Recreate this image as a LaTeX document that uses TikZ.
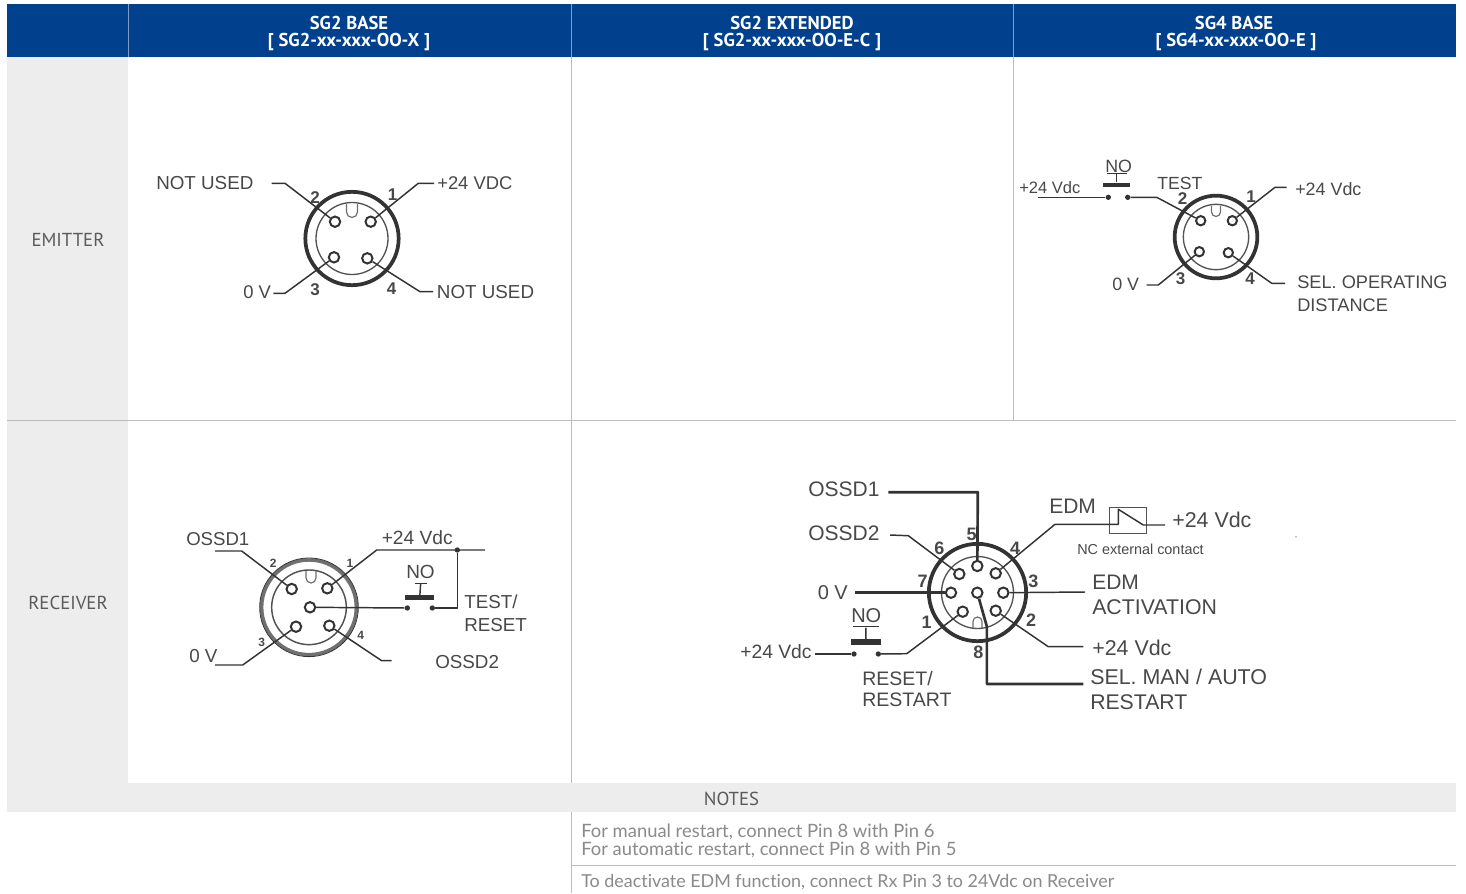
\documentclass[tikz,border=0pt]{standalone}
\usepackage{fontspec}
\setmainfont{Liberation Sans}
\newfontfamily\hdfont{PT Sans}
\newfontfamily\notefont[Ligatures=NoCommon]{Lato}
\newcommand\px[1]{\fontsize{\fpeval{#1*0.75}pt}{\fpeval{#1*0.9}pt}\selectfont}
\definecolor{hdblue}{HTML}{00408C}
\definecolor{hdline}{HTML}{7F9CC6}
\definecolor{cellgrey}{HTML}{EDEDED}
\definecolor{gridgrey}{HTML}{BDBDBD}
\definecolor{inkline}{HTML}{333333}
\definecolor{inktext}{HTML}{484848}
\definecolor{notegrey}{HTML}{8A8A8A}
\tikzset{
 lab/.style={anchor=base west,inner sep=0pt,text=inktext},
 num/.style={anchor=center,inner sep=0pt,text=inktext,font=\px{17}\bfseries},
 pinc/.style={circle,draw=inkline,fill=white,line width=1.5pt,inner sep=0pt,minimum size=7.8pt},
 wire/.style={draw=inkline,line width=1.1pt,line join=round},
 hwire/.style={draw=inkline,line width=2pt,line join=round},
 dotn/.style={circle,fill=inkline,inner sep=0pt,minimum size=4pt},
 ringo/.style={circle,draw=inkline,inner sep=0pt,line width=2.8pt},
 ringi/.style={circle,draw=inkline!85,inner sep=0pt,line width=1pt},
 barn/.style={rectangle,fill=inkline,inner sep=0pt},
 hdtext/.style={anchor=center,inner sep=0pt,text=white,font=\hdfont\px{18.6}\bfseries},
 rowtext/.style={anchor=center,inner sep=0pt,text=inktext!90,font=\hdfont\px{18.8}},
 notetext/.style={anchor=base west,inner sep=0pt,text=notegrey,font=\notefont\px{18.4}},
 keyw/.style={draw=inkline!70,line width=.9pt},
 grid/.style={draw=gridgrey,line width=.75pt}
}
\begin{document}
\begin{tikzpicture}[x=0.75pt,y=-0.75pt]
\useasboundingbox (0,0) rectangle (1466,893);
\fill[white] (0,0) rectangle (1466,893);
% table
\fill[hdblue] (7,4) rectangle (1456,57);
\fill[cellgrey] (7,57) rectangle (128,783);
\draw[hdline,line width=.75pt] (128,4) -- (128,57) (571,4) -- (571,57) (1013,4) -- (1013,57);
\draw[grid] (7,420) -- (1456,420) (571,57) -- (571,893) (1013,57) -- (1013,420) (571,865) -- (1456,865);
\fill[cellgrey] (7,783) rectangle (1456,812);
\node[hdtext] (h1a) at (349,23) {SG2 BASE};
\node[hdtext] (h1b) at (349,41.5) {[ SG2-xx-xxx-OO-X ]};
\node[hdtext] (h2a) at (792,23) {SG2 EXTENDED};
\node[hdtext] (h2b) at (792,41.5) {[ SG2-xx-xxx-OO-E-C ]};
\node[hdtext] (h3a) at (1234,23) {SG4 BASE};
\node[hdtext] (h3b) at (1236,41.5) {[ SG4-xx-xxx-OO-E ]};
\node[rowtext] (r1) at (68,240) {EMITTER};
\node[rowtext] (r2) at (68,603) {RECEIVER};
\node[rowtext] (r3) at (731.5,799) {NOTES};
\node[notetext] (n1) at (581,837) {For manual restart, connect Pin 8 with Pin 6};
\node[notetext] (n2) at (581,855) {For automatic restart, connect Pin 8 with Pin 5};
\node[notetext,font=\notefont\px{17.9}] (n3) at (581,887) {To deactivate EDM function, connect Rx Pin 3 to 24Vdc on Receiver};

% ===== SG2 base emitter
\node[ringo,minimum size=70pt] (ao) at (352,238.5) {};
\node[ringi,minimum size=54pt] (ai) at (352,238.5) {};
\draw[keyw] (346.5,204) -- (346.5,212) arc[start angle=180,end angle=0,radius=5.5] -- (357.5,204);
\node[pinc] (a2) at (335,221.7) {};
\node[pinc] (a1) at (370.7,221.7) {};
\node[pinc] (a3) at (334,257.3) {};
\node[pinc] (a4) at (367.3,258.3) {};
\coordinate (a2e) at (271.7,183.3); \coordinate (a2k) at (285,183.3);
\coordinate (a1e) at (434,183.3); \coordinate (a1k) at (418.3,183.3);
\coordinate (a3e) at (273.3,293.3); \coordinate (a3k) at (285,293.3);
\coordinate (a4e) at (433,291.7); \coordinate (a4k) at (420,291.7);
\draw[wire] (a2e) -- (a2k) -- (a2);
\draw[wire] (a1e) -- (a1k) -- (a1);
\draw[wire] (a3e) -- (a3k) -- (a3);
\draw[wire] (a4e) -- (a4k) -- (a4);
\node[lab,font=\px{18.8}] (al1) at (156,189.3) {NOT USED};
\node[lab,font=\px{18.4}] (al2) at (437,189.3) {+24 VDC};
\node[lab,font=\px{18.8}] (al3) at (436.7,298) {NOT USED};
\node[lab,font=\px{18.4}] (al4) at (243,298) {0 V};
\node[num] (an2) at (315,198) {2};
\node[num] (an1) at (392.7,195) {1};
\node[num] (an3) at (315,290) {3};
\node[num] (an4) at (391.7,288.3) {4};

% ===== SG4 base emitter
\node[ringo,minimum size=62pt] (bo) at (1216,237) {};
\node[ringi,minimum size=49pt] (bi) at (1216,237) {};
\draw[keyw] (1211.5,205.5) -- (1211.5,212) arc[start angle=180,end angle=0,radius=4.5] -- (1220.5,205.5);
\node[pinc,minimum size=7pt] (b2) at (1200.7,220.7) {};
\node[pinc,minimum size=7pt] (b1) at (1232.3,220.7) {};
\node[pinc,minimum size=7pt] (b3) at (1199.3,251.7) {};
\node[pinc,minimum size=7pt] (b4) at (1228.3,252.7) {};
\node[dotn] (bd1) at (1108.3,197.3) {};
\node[dotn] (bd2) at (1127.7,197.3) {};
\coordinate (bw) at (1038.3,197.3);
\coordinate (b2k) at (1156.7,197.3);
\coordinate (b1e) at (1286.7,187.3); \coordinate (b1k) at (1275,187.3);
\coordinate (b3e) at (1146.7,285); \coordinate (b3k) at (1158.3,285);
\coordinate (b4e) at (1285,283.3); \coordinate (b4k) at (1271.7,283.3);
\draw[wire] (bw) -- (bd1);
\draw[wire] (bd2) -- (b2k) -- (b2);
\draw[wire] (b1e) -- (b1k) -- (b1);
\draw[wire] (b3e) -- (b3k) -- (b3);
\draw[wire] (b4e) -- (b4k) -- (b4);
\node[barn,minimum width=20pt,minimum height=3pt] (bbar) at (1116.7,184.5) {};
\node[barn,minimum width=15pt,minimum height=.9pt] (btop) at (1116.7,173.3) {};
\draw[wire] (bbar) -- (btop);
\node[lab,font=\px{16.5}] (bl1) at (1019,193.5) {+24 Vdc};
\node[lab,font=\px{17.8}] (bl2) at (1105,172.7) {NO};
\node[lab,font=\px{17.6}] (bl3) at (1157,189.3) {TEST};
\node[lab,font=\px{17.9}] (bl4) at (1295,195.7) {+24 Vdc};
\node[lab,font=\px{17.9}] (bl5) at (1112,290) {0 V};
\node[lab,font=\px{18.2}] (bl6) at (1297,288.3) {SEL. OPERATING};
\node[lab,font=\px{18.2}] (bl7) at (1297,311) {DISTANCE};
\node[num] (bn2) at (1182.7,199) {2};
\node[num] (bn1) at (1251,197) {1};
\node[num] (bn3) at (1180.7,278.3) {3};
\node[num] (bn4) at (1250,278.3) {4};

% ===== SG2 base receiver
\node[circle,draw=inkline!70,line width=2.6pt,inner sep=0pt,minimum size=71pt] (co) at (309,607.3) {};
\node[circle,draw=inkline,line width=.6pt,inner sep=0pt,minimum size=74pt] (cx) at (309,607.3) {};
\node[ringi,minimum size=56pt,line width=1.1pt] (ci) at (309,607.3) {};
\draw[keyw] (306,571) -- (306,578) arc[start angle=180,end angle=0,radius=5] -- (316,571);
\node[pinc] (c2) at (291.7,589) {};
\node[pinc] (c1) at (327.3,588.3) {};
\node[pinc] (c0) at (310,607.3) {};
\node[pinc] (c3) at (296,626.7) {};
\node[pinc] (c4) at (329.3,625.7) {};
\node[dotn] (cd0) at (457.3,550) {};
\node[dotn] (cd1) at (407.3,608) {};
\node[dotn] (cd2) at (432.3,608) {};
\coordinate (c2e) at (215,551); \coordinate (c2k) at (241.7,551);
\coordinate (c1e) at (485,550); \coordinate (c1k) at (376.7,550);
\coordinate (cc) at (457.3,608);
\coordinate (c3e) at (215,665); \coordinate (c3k) at (242.7,665);
\coordinate (c4e) at (391.7,660.7); \coordinate (c4k) at (381.7,660.7);
\draw[wire] (c2e) -- (c2k) -- (c2);
\draw[wire] (c1e) -- (c1k) -- (c1);
\draw[wire] (cd0) -- (cc) -- (cd2);
\draw[wire] (c0) -- (cd1);
\draw[wire] (c3e) -- (c3k) -- (c3);
\draw[wire] (c4e) -- (c4k) -- (c4);
\node[barn,minimum width=22pt,minimum height=3.4pt] (cbar) at (419.7,597.3) {};
\node[barn,minimum width=9pt,minimum height=.9pt] (ctop) at (420.7,583.3) {};
\draw[wire] (cbar) -- (ctop);
\node[lab,font=\px{18.6}] (cl1) at (186,545.7) {OSSD1};
\node[lab,font=\px{19.2}] (cl2) at (381.5,544.5) {+24 Vdc};
\node[lab,font=\px{19}] (cl3) at (406,578.5) {NO};
\node[lab,font=\px{18.8}] (cl4) at (464,608) {TEST/};
\node[lab,font=\px{18.8}] (cl5) at (464,631) {RESET};
\node[lab,font=\px{18.8}] (cl6) at (435,668) {OSSD2};
\node[lab,font=\px{18.8}] (cl7) at (189,662.5) {0 V};
\node[num,font=\px{12}\bfseries] (cn2) at (273.3,563.3) {2};
\node[num,font=\px{12}\bfseries] (cn1) at (350,563.3) {1};
\node[num,font=\px{12}\bfseries] (cn3) at (261.7,642) {3};
\node[num,font=\px{12}\bfseries] (cn4) at (360.7,635) {4};

% ===== SG2 extended receiver
\node[ringo,minimum size=73pt] (do) at (977.5,592.5) {};
\node[ringi,minimum size=54pt] (di) at (977.5,592.5) {};
\draw[keyw] (973,628) -- (973,621.5) arc[start angle=180,end angle=360,radius=4.5] -- (982,628);
\node[pinc] (d5) at (977.3,566) {};
\node[pinc] (d6) at (959.3,574) {};
\node[pinc] (d4) at (995.7,573.3) {};
\node[pinc] (d7) at (951,592.7) {};
\node[pinc] (d0) at (977.3,592.7) {};
\node[pinc] (d3) at (1003.3,592.7) {};
\node[pinc] (d1) at (962.7,611.7) {};
\node[pinc] (d2) at (995.7,610.7) {};
\node[dotn] (dd1) at (854,654) {};
\node[dotn] (dd2) at (878.3,654) {};
\coordinate (d5e) at (888.3,492.3); \coordinate (d5k) at (977.8,492.3);
\coordinate (d6e) at (890,535); \coordinate (d6k) at (908.3,535.7);
\coordinate (d7e) at (855,592.7);
\coordinate (dw) at (815,654);
\coordinate (d1k) at (906.7,653.7);
\coordinate (d0k) at (986.9,626.7); \coordinate (d0j) at (986.9,684); \coordinate (d0e) at (1083.3,684);
\coordinate (d4k) at (1055,524.3);
\coordinate (d3e) at (1085,592);
\coordinate (d2e) at (1083.3,646.7); \coordinate (d2k) at (1048.3,646.7);
\draw[hwire] (d5e) -- (d5k) -- (d5);
\draw[wire] (d6e) -- (d6k) -- (d6);
\draw[hwire] (d7e) -- (d7);
\draw[wire] (dw) -- (dd1);
\draw[wire] (dd2) -- (d1k) -- (d1);
\draw[hwire] (d0) -- (d0k) -- (d0j) -- (d0e);
\draw[wire] (d3) -- (d3e);
\draw[wire] (d2) -- (d2k) -- (d2e);
\node[barn,minimum width=22.5pt,minimum height=4.4pt] (dbar) at (865.7,642.3) {};
\node[barn,minimum width=19pt,minimum height=.9pt] (dtop) at (866,626.7) {};
\draw[wire] (dbar) -- (dtop);
% EDM contact
\node[rectangle,draw=inkline!85,line width=.8pt,inner sep=0pt,minimum width=28pt,minimum height=19.2pt] (dbox) at (1128,520.5) {};
\coordinate (sa) at (1118.3,524.3);
\coordinate (st) at (1118.3,509.3);
\coordinate (sb) at (1143.3,525);
\coordinate (se) at (1165,525);
\draw[wire] (d4) -- (d4k) -- (sa) -- (st) -- (sb) -- (se);
\node[lab,font=\px{21}] (dl1) at (808,496.7) {OSSD1};
\node[lab,font=\px{21}] (dl2) at (808,540) {OSSD2};
\node[lab,font=\px{20}] (dl3) at (817.5,599.3) {0 V};
\node[lab,font=\px{20}] (dl4) at (851,622.3) {NO};
\node[lab,font=\px{19.3}] (dl5) at (740,658.5) {+24 Vdc};
\node[lab,font=\px{19.5}] (dl6) at (862,685) {RESET/};
\node[lab,font=\px{19.5}] (dl7) at (862,706) {RESTART};
\node[lab,font=\px{21}] (dl8) at (1049,513.3) {EDM};
\node[lab,font=\px{21.4}] (dl9) at (1172,527.7) {+24 Vdc};
\node[lab,font=\px{14.4}] (dl10) at (1077,554) {NC external contact};
\node[lab,font=\px{21}] (dl11) at (1092,589.5) {EDM};
\node[lab,font=\px{21.3}] (dl12) at (1092,614.5) {ACTIVATION};
\node[lab,font=\px{21.4}] (dl13) at (1092,655) {+24 Vdc};
\node[lab,font=\px{21.4}] (dl14) at (1090,684) {SEL. MAN / AUTO};
\node[lab,font=\px{21.2}] (dl15) at (1090,709.3) {RESTART};
\node[num,font=\px{18}\bfseries] (dn5) at (971.7,534) {5};
\node[num,font=\px{18}\bfseries] (dn6) at (939.3,548.3) {6};
\node[num,font=\px{18}\bfseries] (dn4) at (1015,548.3) {4};
\node[num,font=\px{18}\bfseries] (dn7) at (922.7,581.7) {7};
\node[num,font=\px{18}\bfseries] (dn1) at (926.7,622.7) {1};
\node[num,font=\px{18}\bfseries] (dn8) at (978.3,652.7) {8};
\node[num,font=\px{18}\bfseries] (dn3) at (1033.3,581.7) {3};
\node[num,font=\px{18}\bfseries] (dn2) at (1031,620) {2};
\node[circle,fill=gridgrey,inner sep=0pt,minimum size=1.6pt] (speck) at (1296,536.7) {};
\end{tikzpicture}
\end{document}
